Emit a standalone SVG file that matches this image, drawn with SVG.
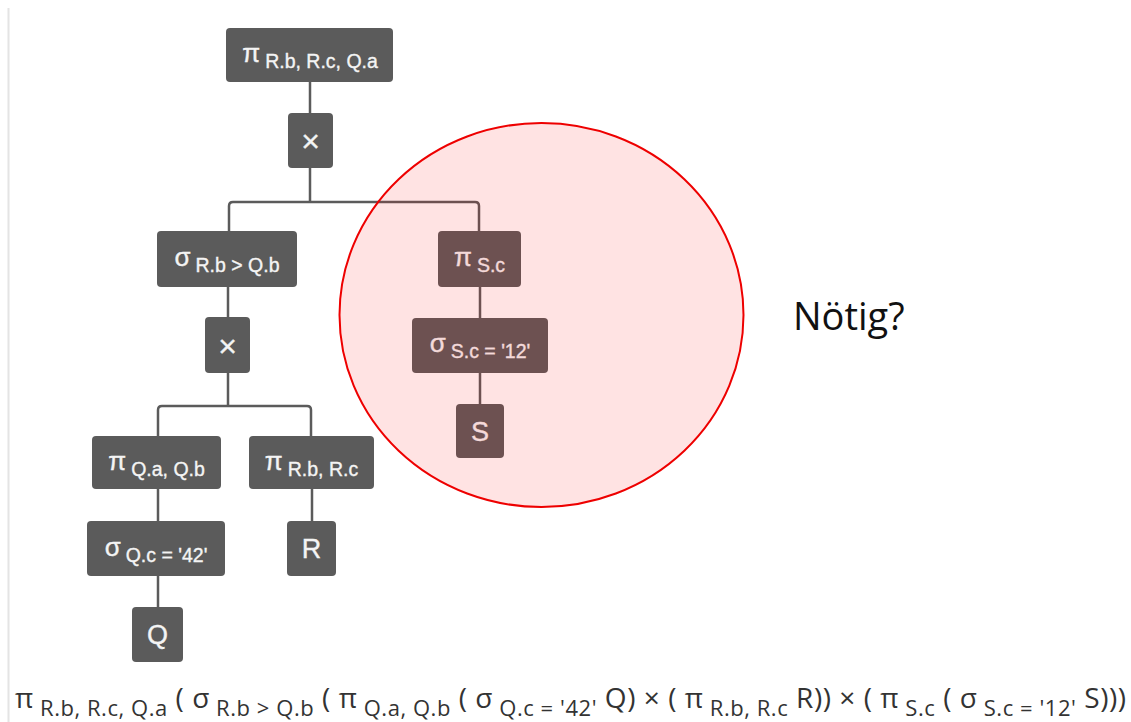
<svg xmlns="http://www.w3.org/2000/svg" width="1131" height="722" viewBox="0 0 1131 722">
<style>
.nd{fill:#5b5b5b}
.t{font-family:"Liberation Sans",Arial,sans-serif;fill:#f4f4f4;text-anchor:middle;stroke:#f4f4f4;stroke-width:0.35}
.op{font-size:26px}
.sb{font-size:19.5px}
.big{font-size:27px}
.x{font-size:32px}
.cn{fill:none;stroke:#5b5b5b;stroke-width:2.5}
.fm{font-family:"Open Sans","Noto Sans",sans-serif;font-size:28px;fill:#333}
.fs{font-size:22px}
</style>
<rect width="1131" height="722" fill="#fff"/>
<line x1="8.5" y1="8" x2="8.5" y2="722" stroke="#e4e4e4" stroke-width="2"/>
<g id="connectors">
<path class="cn" d="M310,82 V113"/>
<path class="cn" d="M310,168 V202"/>
<path class="cn" d="M229,231 V206 Q229,202 233,202 H475 Q479,202 479,206 V231"/>
<path class="cn" d="M228,287 V317"/>
<path class="cn" d="M228,373 V406"/>
<path class="cn" d="M158,436 V410 Q158,406 162,406 H307 Q311,406 311,410 V436"/>
<path class="cn" d="M158,489 V521"/>
<path class="cn" d="M158,576 V607"/>
<path class="cn" d="M312,489 V521"/>
<path class="cn" d="M480,287 V318"/>
<path class="cn" d="M480,373 V404"/>
</g>
<g id="n1"><rect class="nd" x="226" y="28" width="167" height="54" rx="4"/>
<text class="t" x="310" y="62"><tspan class="op">π</tspan><tspan class="sb" dx="5" dy="6">R.b, R.c, Q.a</tspan></text></g>
<g id="n2"><rect class="nd" x="288" y="113" width="45" height="55" rx="4"/>
<text class="t x" x="310.5" y="152">×</text></g>
<g id="n3"><rect class="nd" x="157" y="231" width="140" height="56" rx="4"/>
<text class="t" x="227" y="266"><tspan class="op">σ</tspan><tspan class="sb" dx="5" dy="6">R.b &gt; Q.b</tspan></text></g>
<g id="n4"><rect class="nd" x="438" y="231" width="83" height="56" rx="4"/>
<text class="t" x="479.5" y="266"><tspan class="op">π</tspan><tspan class="sb" dx="5" dy="6">S.c</tspan></text></g>
<g id="n5"><rect class="nd" x="205" y="317" width="45" height="56" rx="4"/>
<text class="t x" x="227.5" y="357">×</text></g>
<g id="n6"><rect class="nd" x="412" y="318" width="136" height="55" rx="4"/>
<text class="t" x="480" y="352"><tspan class="op">σ</tspan><tspan class="sb" dx="5" dy="6">S.c = '12'</tspan></text></g>
<g id="n7"><rect class="nd" x="456" y="404" width="48" height="54" rx="4"/>
<text class="t big" x="480" y="440.5">S</text></g>
<g id="n8"><rect class="nd" x="92" y="436" width="129" height="53" rx="4"/>
<text class="t" x="156.5" y="469.5"><tspan class="op">π</tspan><tspan class="sb" dx="5" dy="6">Q.a, Q.b</tspan></text></g>
<g id="n9"><rect class="nd" x="249" y="436" width="125" height="53" rx="4"/>
<text class="t" x="311.5" y="469.5"><tspan class="op">π</tspan><tspan class="sb" dx="5" dy="6">R.b, R.c</tspan></text></g>
<g id="n10"><rect class="nd" x="87" y="521" width="138" height="55" rx="4"/>
<text class="t" x="156" y="555.5"><tspan class="op">σ</tspan><tspan class="sb" dx="5" dy="6">Q.c = '42'</tspan></text></g>
<g id="n11"><rect class="nd" x="287" y="521" width="49" height="55" rx="4"/>
<text class="t big" x="311.5" y="558">R</text></g>
<g id="n12"><rect class="nd" x="132" y="607" width="51" height="55" rx="4"/>
<text class="t big" x="157.5" y="644">Q</text></g>
<ellipse id="highlight" cx="541.5" cy="315" rx="202" ry="192" fill="#ff0000" fill-opacity="0.11" stroke="#ee0000" stroke-width="2"/>
<text id="note" x="793" y="330" font-family="'Open Sans','Noto Sans',sans-serif" font-size="38" fill="#111">Nötig?</text>
<text id="formula" class="fm" x="15" y="708" textLength="1111" lengthAdjust="spacing">π<tspan class="fs" dy="8"> R.b, R.c, Q.a</tspan><tspan dy="-8"> ( σ</tspan><tspan class="fs" dy="8"> R.b &gt; Q.b</tspan><tspan dy="-8"> ( π</tspan><tspan class="fs" dy="8"> Q.a, Q.b</tspan><tspan dy="-8"> ( σ</tspan><tspan class="fs" dy="8"> Q.c = '42'</tspan><tspan dy="-8"> Q) × ( π</tspan><tspan class="fs" dy="8"> R.b, R.c</tspan><tspan dy="-8"> R)) × ( π</tspan><tspan class="fs" dy="8"> S.c</tspan><tspan dy="-8"> ( σ</tspan><tspan class="fs" dy="8"> S.c = '12'</tspan><tspan dy="-8"> S)))</tspan></text>
</svg>
